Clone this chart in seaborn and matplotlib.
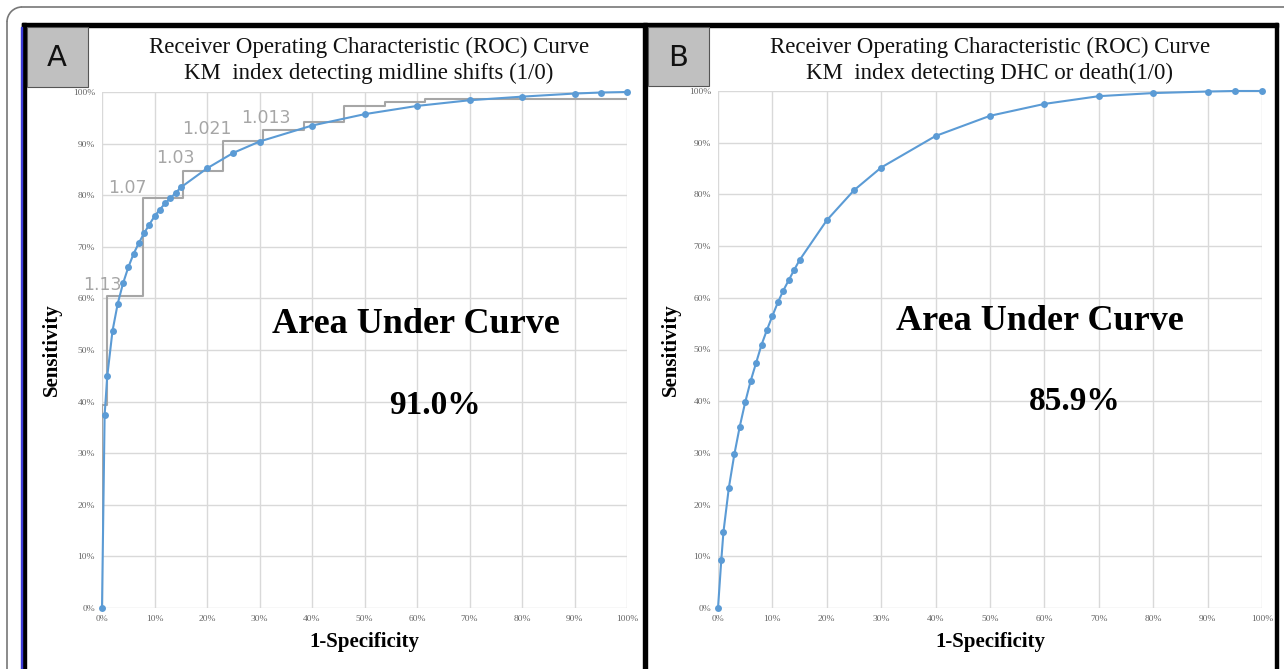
import pandas as pd
import matplotlib.pyplot as plt
import seaborn as sns
from matplotlib.patches import Rectangle, Arc
from matplotlib.lines import Line2D
from matplotlib.transforms import IdentityTransform

# ROC points, panel A (midline shifts), in percent
fpr_a = [0, 0.5, 1, 2, 3, 4, 5, 6, 7, 8, 9, 10, 11, 12, 13, 14, 15,
         20, 25, 30, 40, 50, 60, 70, 80, 90, 95, 100]
tpr_a = [0, 37.4, 44.9, 53.7, 59.0, 62.9, 66.0, 68.6, 70.7, 72.6, 74.3, 75.9, 77.2, 78.4, 79.4, 80.4, 81.5,
         85.2, 88.2, 90.4, 93.5, 95.7, 97.3, 98.4, 99.1, 99.7, 99.9, 100]

# empirical staircase for panel A
step_x = [0, 0, 0.9, 7.75, 15.4, 23.1, 30.7, 38.5, 46.1, 53.9, 61.5, 100]
step_y = [0, 39.4, 60.4, 79.5, 84.7, 90.6, 92.7, 94.1, 97.3, 98.0, 98.7, 98.7]

# cut-off labels on the staircase
cut_labels = ['1.13', '1.07', '1.03', '1.021', '1.013']
cut_x = [0.1, 4.9, 14.0, 19.9, 31.2]
cut_y = [62.6, 81.4, 87.2, 92.8, 95.0]

# ROC points, panel B (DHC or death)
fpr_b = [0, 0.6, 1, 2, 3, 4, 5, 6, 7, 8, 9, 10, 11, 12, 13, 14, 15,
         20, 25, 30, 40, 50, 60, 70, 80, 90, 95, 100]
tpr_b = [0, 9.2, 14.7, 23.3, 29.7, 35.1, 39.8, 43.9, 47.4, 50.9, 53.8, 56.5, 59.1, 61.4, 63.4, 65.4, 67.3,
         75.0, 80.8, 85.2, 91.3, 95.2, 97.5, 99.0, 99.6, 99.9, 100, 100]

ticks = list(range(0, 101, 10))
tick_labels = [f'{t}%' for t in ticks]

sns.set_theme(style='white')
plt.rcParams['font.family'] = ['Liberation Serif', 'DejaVu Serif']

W, H = 1284, 669
fig = plt.figure(figsize=(W / 100, H / 100), dpi=100)
fig.patch.set_facecolor('white')


def fx(px):
    return px / W


def fy(py):
    return 1 - py / H


def rect(x0, y0, x1, y1, **kw):
    fig.patches.append(Rectangle((fx(x0), fy(y1)), fx(x1) - fx(x0), fy(y0) - fy(y1),
                                 transform=fig.transFigure, **kw))


# outer border with a rounded top-left corner (pixel coordinates)
r = 15
border = dict(color='#777777', linewidth=1.2, transform=IdentityTransform())
fig.lines.append(Line2D([7 + r, W + 5], [H - 7, H - 7], **border))
fig.lines.append(Line2D([7, 7], [-5, H - 7 - r], **border))
fig.patches.append(Arc((7 + r, H - 7 - r), 2 * r, 2 * r, theta1=90, theta2=180,
                       edgecolor='#777777', linewidth=1.2, transform=IdentityTransform()))

# black panel frames
rect(22, 23, 26, 680, color='black')
rect(22, 23, 1278, 27, color='black')
rect(643, 23, 647, 680, color='black')
rect(1275, 23, 1278, 680, color='black')
rect(21, 27, 22.5, 680, color='#3b3bd6')

# panel letter boxes
rect(27, 27, 88, 87, facecolor='#c0c0c0', edgecolor='#555555', linewidth=0.8)
rect(648, 27, 709, 86, facecolor='#c0c0c0', edgecolor='#555555', linewidth=0.8)
fig.text(fx(57), fy(58), 'A', family='DejaVu Sans', fontsize=21, ha='center', va='center', color='#111111')
fig.text(fx(678), fy(58), 'B', family='DejaVu Sans', fontsize=21, ha='center', va='center', color='#111111')

blue = '#5b9bd5'
panels = [
    dict(pos=(102, 92, 627, 608), fpr=fpr_a, tpr=tpr_a,
         title=['Receiver Operating Characteristic (ROC) Curve',
                'KM  index detecting midline shifts (1/0)'],
         tcx=369, auc='91.0%', auc_xy=(416, 325), val_xy=(435, 405), xl=364, yl=52),
    dict(pos=(718, 91, 1262, 608), fpr=fpr_b, tpr=tpr_b,
         title=['Receiver Operating Characteristic (ROC) Curve',
                'KM  index detecting DHC or death(1/0)'],
         tcx=990, auc='85.9%', auc_xy=(1040, 322), val_xy=(1075, 402), xl=990, yl=671),
]

for i, p in enumerate(panels):
    x0, y0, x1, y1 = p['pos']
    ax = fig.add_axes([fx(x0), fy(y1), fx(x1) - fx(x0), fy(y0) - fy(y1)])
    ax.set_xlim(0, 100)
    ax.set_ylim(0, 100)
    ax.set_xticks(ticks)
    ax.set_yticks(ticks)
    ax.set_xticklabels(tick_labels)
    ax.set_yticklabels(tick_labels)
    ax.tick_params(length=0, labelsize=6.8, labelcolor='#666666', pad=5)
    ax.grid(True, color='#d9d9d9', linewidth=1)
    for s in ax.spines.values():
        s.set_visible(False)
    ax.set_facecolor('none')

    if i == 0:
        sns.lineplot(x=step_x, y=step_y, ax=ax, sort=False, drawstyle='steps-post',
                     color='#a6a6a6', linewidth=1.5, estimator=None, zorder=2)
        for lab, cx, cy in zip(cut_labels, cut_x, cut_y):
            ax.text(cx, cy, lab, family='DejaVu Sans', fontsize=12.5, color='#a6a6a6',
                    ha='center', va='center', zorder=3)

    df = pd.DataFrame({'fpr': p['fpr'], 'tpr': p['tpr']})
    sns.lineplot(data=df, x='fpr', y='tpr', ax=ax, sort=False, estimator=None,
                 color=blue, linewidth=1.5, marker='o', markersize=5,
                 markeredgewidth=0, zorder=4, clip_on=False)
    ax.set_xlabel('')
    ax.set_ylabel('')

    fig.text(fx(p['tcx']), fy(47), p['title'][0], fontsize=16.5, ha='center', va='center',
             color='#111111')
    fig.text(fx(p['tcx']), fy(73), p['title'][1], fontsize=16.5, ha='center', va='center',
             color='#111111')
    fig.text(fx(p['yl']), fy(350), 'Sensitivity', fontsize=15, fontweight='bold', rotation=90,
             ha='center', va='center', color='black')
    fig.text(fx(p['xl']), fy(642), '1-Specificity', fontsize=15, fontweight='bold',
             ha='center', va='center', color='black')
    fig.text(fx(p['auc_xy'][0]), fy(p['auc_xy'][1]), 'Area Under Curve', fontsize=26,
             fontweight='bold', ha='center', va='center', color='black')
    fig.text(fx(p['val_xy'][0]), fy(p['val_xy'][1]), p['auc'], fontsize=24,
             fontweight='bold', ha='center', va='center', color='black')

fig.savefig('out.png', dpi=100, facecolor='white')
